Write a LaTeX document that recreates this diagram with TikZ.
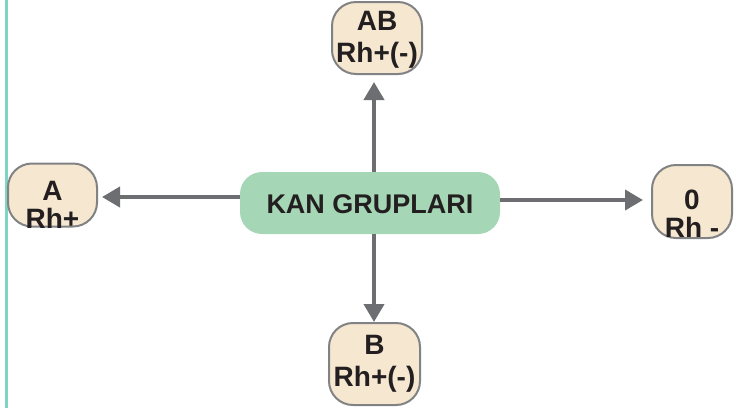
\documentclass[tikz,border=0pt]{standalone}
\usepackage{fontspec}
\setmainfont{Liberation Sans}
\usetikzlibrary{arrows.meta}
\definecolor{teal1}{HTML}{80D4C3}
\definecolor{greenbox}{HTML}{A5D6B5}
\definecolor{beige}{HTML}{F6E7D0}
\definecolor{bordergray}{HTML}{808283}
\definecolor{arrowgray}{HTML}{6D6E71}
\definecolor{txt}{HTML}{231F20}
\tikzset{
  leaf/.style={draw=bordergray, line width=2pt, fill=beige, rounded corners=24pt, inner sep=0pt},
  hub/.style={fill=greenbox, rounded corners=22pt, inner sep=0pt, minimum width=260pt, minimum height=62pt},
  lbl/.style={anchor=base, inner sep=0pt, text=txt, font=\bfseries\fontsize{28}{31}\selectfont},
  hublbl/.style={lbl, font=\bfseries\fontsize{27}{31}\selectfont},
  conn/.style={draw=arrowgray, line width=4pt, -{Triangle[length=18pt,width=20pt]}}
}
\begin{document}
\begin{tikzpicture}[x=1pt,y=-1pt]
\useasboundingbox (0,0) rectangle (736,408);
\draw[teal1, line width=2.5pt] (6.5,0) coordinate (t1) -- (6.5,408) coordinate (t2);
\node[hub] (c) at (370,203) {};
\node[hublbl] (ct) at (370,213.5) {KAN GRUPLARI};
\node[leaf, minimum width=89pt, minimum height=63pt] (a) at (52.5,195) {};
\node[lbl] (a1) at (52.5,200) {A};
\node[lbl] (a2) at (52.5,228) {Rh+};
\node[leaf, minimum width=90pt, minimum height=72pt] (ab) at (377,38) {};
\node[lbl] (ab1) at (377,30.5) {AB};
\node[lbl] (ab2) at (377,62) {Rh+(-)};
\node[leaf, minimum width=80pt, minimum height=73pt] (o) at (692,201.5) {};
\node[lbl] (o1) at (692,209) {0};
\node[lbl] (o2) at (692,237) {Rh -};
\node[leaf, minimum width=91pt, minimum height=82pt] (b) at (374.5,364) {};
\node[lbl] (b1) at (374.5,354) {B};
\node[lbl] (b2) at (374.5,386) {Rh+(-)};
\coordinate (vx) at (374,0);
\draw[conn, shorten >=7pt] (c.north -| vx) -- (ab.south -| vx);
\draw[conn] (c.south -| vx) -- (b.north -| vx);
\draw[conn, shorten >=4pt] (c.west |- 0,197) -- (a.east |- 0,197);
\draw[conn, shorten >=8pt] (c.east |- 0,200) -- (o.west |- 0,200);
\end{tikzpicture}
\end{document}
